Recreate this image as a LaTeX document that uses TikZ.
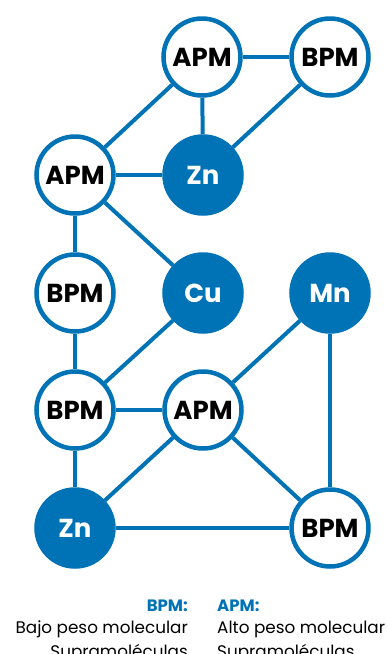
\documentclass[tikz,border=0pt]{standalone}
\usepackage{fontspec}
\setmainfont{Poppins}
\definecolor{azul}{RGB}{0,114,182}
\tikzset{
  mol/.style={circle, draw=azul, line width=4.5pt, fill=white, minimum size=77pt, inner sep=0pt,
    font=\fontsize{26}{26}\selectfont\bfseries},
  metal/.style={mol, fill=azul, text=white},
  enlace/.style={azul, line width=4pt},
  clave/.style={text=azul, font=\fontsize{16.5}{16.5}\selectfont\bfseries, inner sep=0pt},
  nota/.style={font=\fontsize{16.8}{16.8}\selectfont, inner sep=0pt}
}
\begin{document}
\begin{tikzpicture}[x=1pt,y=-1pt]
  \useasboundingbox (0,0) rectangle (388,654);
  % moleculas
  \node[mol] (apm1) at (202,57) {APM};
  \node[mol] (bpm1) at (330,57) {BPM};
  \node[mol] (apm2) at (75,175) {APM};
  \node[metal] (zn1) at (203,175) {Zn};
  \node[mol] (bpm2) at (75,293) {BPM};
  \node[metal] (cu) at (203,293) {Cu};
  \node[metal] (mn) at (330,293) {Mn};
  \node[mol] (bpm3) at (75,410) {BPM};
  \node[mol] (apm3) at (203,410) {APM};
  \node[metal] (zn2) at (75,528) {Zn};
  \node[mol] (bpm4) at (330,528) {BPM};
  % enlaces
  \draw[enlace] (apm1) -- (bpm1);
  \draw[enlace] (apm1) -- (apm2);
  \draw[enlace] (apm1) -- (zn1);
  \draw[enlace] (bpm1) -- (zn1);
  \draw[enlace] (apm2) -- (zn1);
  \draw[enlace] (apm2) -- (bpm2);
  \draw[enlace] (apm2) -- (cu);
  \draw[enlace] (bpm2) -- (bpm3);
  \draw[enlace] (cu) -- (bpm3);
  \draw[enlace] (bpm3) -- (apm3);
  \draw[enlace] (bpm3) -- (zn2);
  \draw[enlace] (apm3) -- (mn);
  \draw[enlace] (apm3) -- (zn2);
  \draw[enlace] (apm3) -- (bpm4);
  \draw[enlace] (mn) -- (bpm4);
  \draw[enlace] (zn2) -- (bpm4);
  % leyenda
  \node[clave, anchor=base east] (kb) at (188,611) {BPM:};
  \node[nota, anchor=base east] (kb1) at (188,633) {Bajo peso molecular};
  \node[nota, anchor=base east] (kb2) at (188,657) {Supramoléculas};
  \node[clave, anchor=base west] (ka) at (217,611) {APM:};
  \node[nota, anchor=base west] (ka1) at (217,633) {Alto peso molecular};
  \node[nota, anchor=base west] (ka2) at (217,657) {Supramoléculas};
\end{tikzpicture}
\end{document}
